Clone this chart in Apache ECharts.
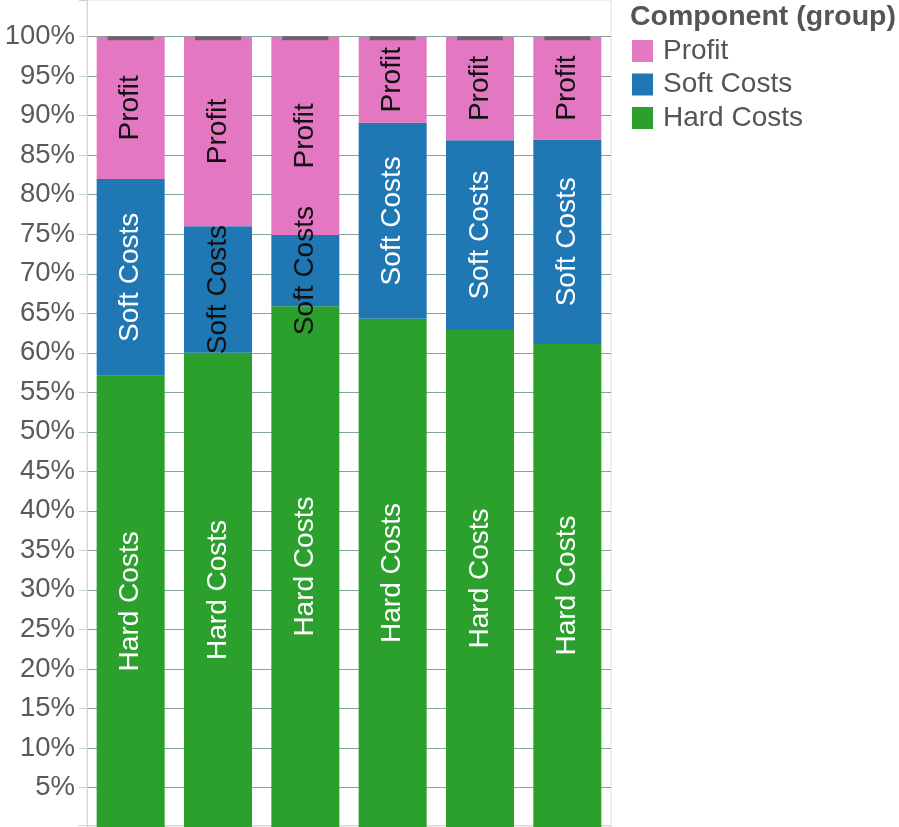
<!DOCTYPE html>
<html>
<head>
<meta charset="utf-8">
<script src="https://cdn.jsdelivr.net/npm/echarts@6/dist/echarts.min.js"></script>
<style>html,body{margin:0;padding:0;background:#fff;}#c{width:899px;height:827px;}</style>
</head>
<body>
<div id="c"></div>
<script>
const categories = ['A', 'B', 'C', 'D', 'E', 'F'];
const hardCosts = [57.1, 60.0, 65.9, 64.3, 62.9, 61.1];
const softCosts = [24.9, 16.0, 9.0, 24.8, 24.0, 25.9];
const profit = [18.0, 24.0, 25.1, 10.9, 13.1, 13.0];
const totalMarks = [100, 100, 100, 100, 100, 100];
const yTicks = [5, 10, 15, 20, 25, 30, 35, 40, 45, 50, 55, 60, 65, 70, 75, 80, 85, 90, 95, 100];

const FONT = "'Liberation Sans', Arial, Helvetica, sans-serif";
const C_PROFIT = '#e377c2', C_SOFT = '#1f77b4', C_HARD = '#2ca02c';

function labelled(values, lightColor, fitMin) {
  return values.map(v => ({
    value: v,
    label: { color: v >= fitMin ? lightColor : '#111' }
  }));
}

const barLabel = {
  show: true, position: 'inside', rotate: 90,
  fontFamily: FONT, fontSize: 28, formatter: '{a}'
};

const chart = echarts.init(document.getElementById('c'), null, { renderer: 'canvas' });
chart.setOption({
  animation: false,
  title: {
    text: 'Component (group)', left: 630, top: 3, padding: 0,
    textStyle: { fontFamily: FONT, fontSize: 28.5, fontWeight: 'bold', color: '#555' }
  },
  legend: {
    data: ['Profit', 'Soft Costs', 'Hard Costs'],
    orient: 'vertical', left: 632, top: 37, padding: 0,
    icon: 'rect', itemWidth: 21, itemHeight: 22, itemGap: 5.5,
    textStyle: { fontFamily: FONT, fontSize: 28, color: '#555', lineHeight: 28, padding: [0, 0, 0, 5] }
  },
  grid: {
    left: 87, right: 288, top: 0, bottom: -1,
    show: true, borderColor: '#dddddd', borderWidth: 1, containLabel: false
  },
  xAxis: {
    type: 'category', data: categories,
    axisLine: { show: false }, axisTick: { show: false }, axisLabel: { show: false }
  },
  yAxis: {
    type: 'value', min: 0, max: 104.64, interval: 5,
    axisLine: { show: true, lineStyle: { color: '#d6d6d6', width: 1 } },
    axisTick: { show: true, length: 8, lineStyle: { color: '#cfcfcf' } },
    axisLabel: {
      fontFamily: FONT, fontSize: 27.5, color: '#5a5a5a', margin: 12,
      formatter: v => (yTicks.indexOf(Math.round(v * 100) / 100) >= 0 ? v + '%' : '')
    },
    splitLine: { show: true, showMaxLine: false, lineStyle: { color: '#7fa898', width: 1 } }
  },
  graphic: [{
    type: 'line', shape: { x1: 78, y1: 825.5, x2: 611, y2: 825.5 },
    style: { stroke: '#d6d6d6', lineWidth: 1 }, silent: true
  }],
  series: [
    { name: 'Hard Costs', type: 'bar', stack: 'total', barWidth: 68,
      itemStyle: { color: C_HARD }, label: barLabel,
      data: labelled(hardCosts, '#ffffff', 18) },
    { name: 'Soft Costs', type: 'bar', stack: 'total', barWidth: 68,
      itemStyle: { color: C_SOFT }, label: barLabel,
      data: labelled(softCosts, '#ffffff', 18) },
    { name: 'Profit', type: 'bar', stack: 'total', barWidth: 68,
      itemStyle: { color: C_PROFIT }, label: barLabel,
      data: labelled(profit, '#111', 0) },
    { name: 'Total', type: 'scatter', data: totalMarks, symbol: 'rect',
      symbolSize: [46, 4], symbolOffset: [0, 1.5], z: 10,
      itemStyle: { color: '#595959' }, silent: true }
  ]
});
</script>
</body>
</html>
